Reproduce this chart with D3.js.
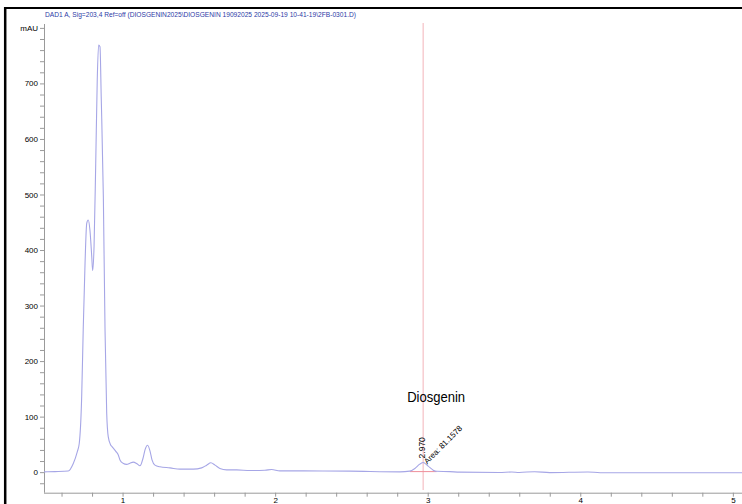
<!DOCTYPE html>
<html>
<head>
<meta charset="utf-8">
<script src="https://cdn.jsdelivr.net/npm/d3@7"></script>
<style>
  html, body { margin: 0; padding: 0; background: #fff; }
  svg { display: block; }
  text { font-family: "Liberation Sans", Arial, sans-serif; }
</style>
</head>
<body>
<svg id="chart" width="742" height="504"></svg>
<script>
// Chromatogram DAD1 A, retention time (min) vs absorbance (mAU)
const title = "DAD1 A, Sig=203,4 Ref=off (DIOSGENIN2025\\DIOSGENIN 19092025 2025-09-19 10-41-19\\2FB-0301.D)";

const times = [0.485, 0.557, 0.644, 0.677, 0.703, 0.716, 0.732, 0.742, 0.754, 0.765,
  0.775, 0.786, 0.798, 0.804, 0.813, 0.824, 0.834, 0.843, 0.852, 0.860,
  0.874, 0.885, 0.896, 0.906, 0.922, 0.931, 0.957, 0.972, 0.983, 1.003,
  1.027, 1.048, 1.070, 1.094, 1.114, 1.134, 1.147, 1.164, 1.180, 1.193,
  1.212, 1.245, 1.311, 1.376, 1.463, 1.518, 1.551, 1.579, 1.606, 1.638,
  1.682, 1.748, 1.835, 1.933, 1.977, 2.031, 2.163, 2.490, 2.818, 2.883,
  2.916, 2.948, 2.970, 3.003, 3.036, 3.058, 3.145, 3.210, 3.470, 3.550,
  3.600, 3.700, 3.800, 4.050, 4.130, 4.600, 5.060];
const signal = [0.5, 1, 2, 15.6, 36.6, 51.7, 136, 256, 376, 448,
  454, 436, 388, 363, 406, 556, 706, 769, 766, 676,
  496, 256, 106, 64, 49, 46, 37, 31, 22, 16,
  14, 16, 18, 15, 11.4, 25, 40, 48.5, 38, 22,
  12.6, 9.6, 7.7, 5.4, 5.4, 7.7, 12.6, 16.8, 12.6, 6.7,
  4.1, 4.1, 3, 3.5, 4.8, 2.3, 2.3, 1.8, 0.5, 1.8,
  6.7, 14.4, 17.5, 10.8, 3.6, 1.5, 1, 0, -0.5, 0.3,
  -0.5, 0.8, -0.8, 0.4, -1, -1, -1];

// Integrated peak
const peakName = "Diosgenin";
const peakTime = 2.970;
const peakHeight = 17.5;
const peakArea = 81.1578;
const peakStart = 2.883;
const peakEnd = 3.058;
const peakBaseline = 1;

// Axis ticks
const xTicks = d3.range(6, 51, 2).map(v => v / 10);   // 0.6 .. 5.0 every 0.2
const xLabels = [1, 2, 3, 4, 5];
const yTicks = d3.range(-20, 801, 20);                 // -20 .. 800 every 20
const yLabels = [0, 100, 200, 300, 400, 500, 600, 700];
const yUnit = "mAU";

const svg = d3.select("#chart");

const x = d3.scaleLinear().domain([0.485, 5.06]).range([44, 742]);
const y = d3.scaleLinear().domain([-37, 807]).range([492.7, 24]);

// Outer frame (left and top edges)
svg.append("line").attr("x1", 5.2).attr("x2", 5.2).attr("y1", 7).attr("y2", 504)
  .attr("stroke", "#000").attr("stroke-width", 2.5);
svg.append("line").attr("x1", 4).attr("x2", 742).attr("y1", 8).attr("y2", 8)
  .attr("stroke", "#000").attr("stroke-width", 2);

// Signal title
svg.append("text")
  .attr("x", 45).attr("y", 17)
  .attr("font-size", 7)
  .attr("fill", "#2d3aa6")
  .attr("textLength", 311)
  .attr("lengthAdjust", "spacingAndGlyphs")
  .text(title);

// Y axis
const yAxis = d3.axisLeft(y)
  .tickValues(yTicks)
  .tickSize(4)
  .tickFormat(d => d === 800 ? yUnit : (yLabels.includes(d) ? String(d) : ""));
const gy = svg.append("g").attr("transform", "translate(44,0)").call(yAxis);
gy.select(".domain").attr("stroke", "#9a9a9a").attr("d", `M0.5,${y.range()[1]}V${y.range()[0]}`);
gy.selectAll(".tick line").attr("stroke", "#9a9a9a");
gy.selectAll(".tick text").attr("font-size", 8).attr("fill", "#000").attr("x", -6)
  .attr("font-family", "'Liberation Sans', Arial, sans-serif");

// X axis
const xAxis = d3.axisBottom(x)
  .tickValues(xTicks)
  .tickSize(4)
  .tickFormat(d => xLabels.some(v => Math.abs(v - d) < 1e-9) ? d3.format("d")(d) : "");
const gx = svg.append("g").attr("transform", `translate(0,${y.range()[0]})`).call(xAxis);
gx.select(".domain").attr("stroke", "#9a9a9a").attr("d", `M${x.range()[0]},0.5H${x.range()[1]}`);
gx.selectAll(".tick line").attr("stroke", "#9a9a9a");
gx.selectAll(".tick text").attr("font-size", 8).attr("fill", "#000").attr("y", 5)
  .attr("font-family", "'Liberation Sans', Arial, sans-serif");

// Retention time marker
svg.append("line")
  .attr("x1", x(peakTime)).attr("x2", x(peakTime))
  .attr("y1", 23).attr("y2", 490)
  .attr("stroke", "#f3b3b9").attr("stroke-width", 1);

// Integration baseline
svg.append("line")
  .attr("x1", x(peakStart)).attr("x2", x(peakEnd))
  .attr("y1", y(peakBaseline)).attr("y2", y(peakBaseline))
  .attr("stroke", "#ef8f9a").attr("stroke-width", 1);

// Chromatogram trace
const pts = times.map((t, i) => [t, signal[i]]);
svg.append("path")
  .datum(pts)
  .attr("fill", "none")
  .attr("stroke", "#a6a6e6")
  .attr("stroke-width", 1.1)
  .attr("d", d3.line().x(d => x(d[0])).y(d => y(d[1])).curve(d3.curveMonotoneX));

// Peak annotations
svg.append("text")
  .attr("x", x(peakTime) - 16).attr("y", 402)
  .attr("font-size", 15)
  .attr("fill", "#000")
  .attr("textLength", 58)
  .attr("lengthAdjust", "spacingAndGlyphs")
  .text(peakName);

svg.append("text")
  .attr("transform", `translate(${x(peakTime) + 2},${y(peakHeight) - 4}) rotate(-90)`)
  .attr("font-size", 8.5)
  .attr("fill", "#000")
  .text(peakTime.toFixed(3));

svg.append("text")
  .attr("transform", `translate(${x(peakTime) + 4},${y(peakHeight) + 2}) rotate(-45)`)
  .attr("font-size", 8)
  .attr("fill", "#000")
  .text("Area: " + peakArea.toFixed(4));
</script>
</body>
</html>
